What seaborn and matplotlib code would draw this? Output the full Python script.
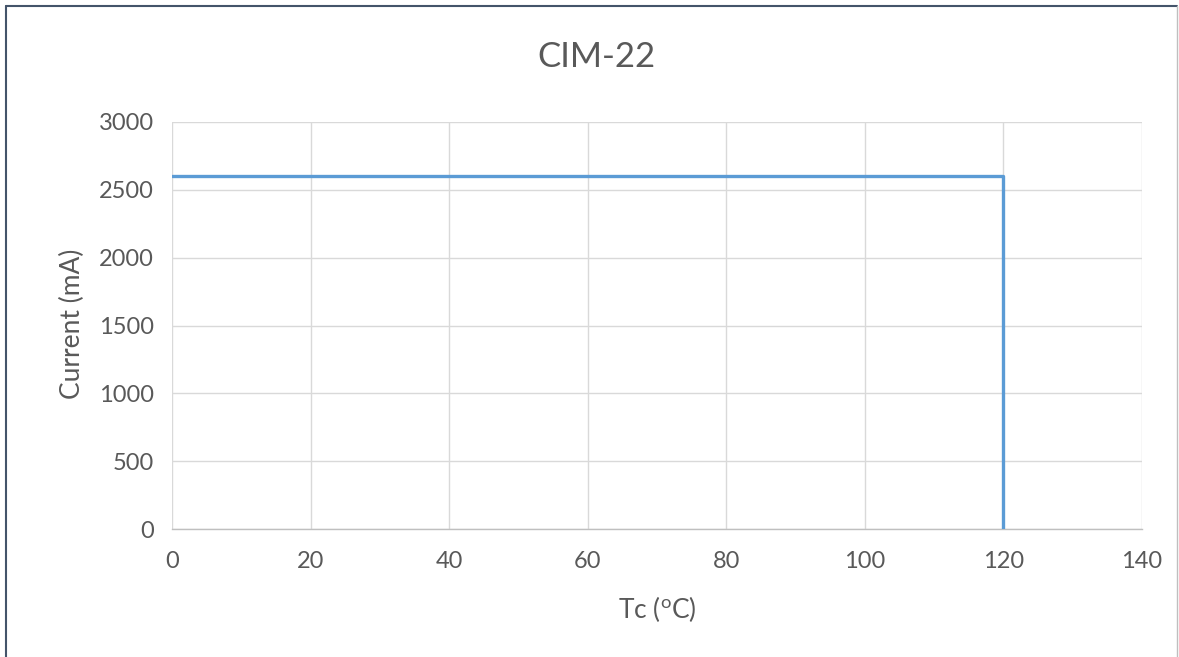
import matplotlib
matplotlib.use("Agg")
import matplotlib.pyplot as plt
from matplotlib.lines import Line2D
import seaborn as sns
import pandas as pd

# Data
temps = [0, 120, 120]
currents = [2600, 2600, 0]
x_ticks = [0, 20, 40, 60, 80, 100, 120, 140]
y_ticks = [0, 500, 1000, 1500, 2000, 2500, 3000]
title = "CIM-22"
x_label = r"Tc ($\mathregular{^{o}}$C)"
y_label = "Current (mA)"

sns.set_theme(style="white")
plt.rcParams['font.family'] = ['Lato', 'DejaVu Sans']
plt.rcParams['mathtext.fontset'] = 'custom'
plt.rcParams['mathtext.rm'] = 'Lato'

W, H = 1179, 657
fig = plt.figure(figsize=(W / 100, H / 100), dpi=100)
ax = fig.add_axes([172 / W, 1 - 529 / H, (1142 - 172) / W, (529 - 122) / H])

df = pd.DataFrame({"Tc": temps, "Current": currents, "seg": [0, 0, 0]})
sns.lineplot(data=df, x="Tc", y="Current", sort=False, estimator=None, units="seg",
             ax=ax, color="#5B9BD5", linewidth=2.4, zorder=3)

ax.set_xlim(0, 140)
ax.set_ylim(0, 3000)
ax.set_xticks(x_ticks)
ax.set_yticks(y_ticks)
text_col = "#595959"
ax.tick_params(axis='both', length=0, labelsize=17, colors=text_col)
ax.tick_params(axis='x', pad=16)
ax.tick_params(axis='y', pad=13)
ax.grid(True, color="#D9D9D9", linewidth=1.0)
ax.set_axisbelow(True)
for s in ["top", "right", "left"]:
    ax.spines[s].set_visible(False)
ax.spines["bottom"].set_color("#BFBFBF")
ax.spines["bottom"].set_linewidth(1.0)

ax.set_xlabel(x_label, fontsize=19, color=text_col)
ax.set_ylabel(y_label, fontsize=19, color=text_col)
ax.xaxis.set_label_coords(0.5 + (657 - 657) / 970 + (657 - 657), (529 - 609) / 407)
ax.xaxis.label.set_va('center')
ax.yaxis.set_label_coords((72 - 172) / 970, 0.5 + (529 - 324 - 203.5) / 407)
ax.yaxis.label.set_va('center')
fig.text(596 / W, 1 - 57 / H, title, ha="center", va="center", fontsize=25, color=text_col)

# frame
fig.add_artist(Line2D([5.5 / W, 5.5 / W], [0, 1 - 5.5 / H], transform=fig.transFigure, color="#44546A", linewidth=1.5))
fig.add_artist(Line2D([5.5 / W, 1177 / W], [1 - 5.5 / H, 1 - 5.5 / H], transform=fig.transFigure, color="#44546A", linewidth=1.5))
fig.add_artist(Line2D([1176.5 / W, 1176.5 / W], [0, 1 - 6 / H], transform=fig.transFigure, color="#BFBFBF", linewidth=1.0))

fig.savefig("out.png", dpi=100)
